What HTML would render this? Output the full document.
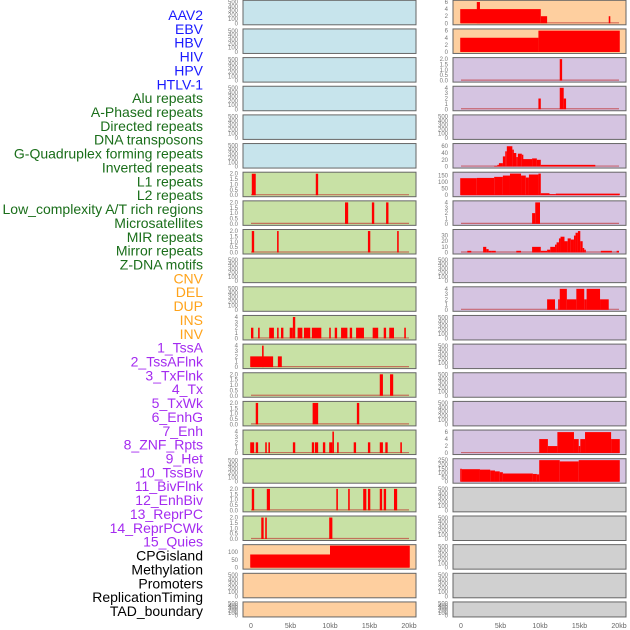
<!DOCTYPE html>
<html><head><meta charset="utf-8"><style>
html,body{margin:0;padding:0;background:#fff;}
svg{display:block;font-family:"Liberation Sans",sans-serif;}
</style></head><body>
<svg id="chart" width="630" height="630" viewBox="0 0 630 630">
<g id="labels"></g>
<g id="panels"></g>
<g id="xaxes"></g>
</svg>
<script>
// ---- data ----
const trackLabels = ["AAV2","EBV","HBV","HIV","HPV","HTLV-1","Alu repeats","A-Phased repeats","Directed repeats","DNA transposons","G-Quadruplex forming repeats","Inverted repeats","L1 repeats","L2 repeats","Low_complexity A/T rich regions","Microsatellites","MIR repeats","Mirror repeats","Z-DNA motifs","CNV","DEL","DUP","INS","INV","1_TssA","2_TssAFlnk","3_TxFlnk","4_Tx","5_TxWk","6_EnhG","7_Enh","8_ZNF_Rpts","9_Het","10_TssBiv","11_BivFlnk","12_EnhBiv","13_ReprPC","14_ReprPCWk","15_Quies","CPGisland","Methylation","Promoters","ReplicationTiming","TAD_boundary"];
const labelGroups = [6,13,5,15,5];
const groupColors = ["#1a1aff","#1a6e1a","#ffa31a","#a42bf0","#000000"];
const xTickValues = [0,5,10,15,20];
const xTickLabels = ["0","5kb","10kb","15kb","20kb"];
const ticksEmpty = [0,100,200,300,400,500];
const ticks2 = [0,0.5,1,1.5,2];
const ticks4 = [0,1,2,3,4];
const ticks6 = [0,2,4,6];
// segments: [startKb, endKb, value]
const leftRow6 = [[0.1,0.6,2],[8.2,8.5,2]];
const leftRow7 = [[11.9,12.3,2],[15.3,15.6,2],[17.1,17.4,2]];
const leftRow8 = [[0.1,0.4,2],[3.3,3.5,2],[14.8,15.1,2],[18.5,18.7,2]];
const leftRow11 = [[0,0.3,2],[0.9,1.1,2],[2.3,2.9,2],[3.3,3.5,2],[3.8,4.1,2],[4.9,5.3,2],[5.3,5.6,4],[5.9,6.5,2],[6.7,7.5,2],[7.7,8.9,2],[9.9,10.1,2],[10.6,10.9,2],[11.4,12.2,2],[12.5,12.8,2],[13.3,14.3,2],[15.4,16.1,2],[16.8,17.1,2],[17.5,18.1,2],[19.4,19.6,2]];
const leftRow12 = [[-0.1,2.8,2],[1.4,1.6,4],[3.4,3.9,2]];
const leftRow13 = [[16.3,16.7,2],[17.6,18.0,2]];
const leftRow14 = [[0.6,0.9,2],[7.8,8.5,2],[13.4,13.7,2]];
const leftRow15 = [[-0.1,0.4,2],[0.6,0.9,2],[1.8,2.0,2],[2.2,2.4,2],[5.3,5.6,2],[7.7,8.0,2],[8.1,8.5,2],[9.1,9.4,2],[9.9,10.3,2],[10.3,10.5,4],[10.9,11.1,2],[13.0,13.3,2],[14.8,15.1,2],[16.3,16.7,2],[17.0,17.3,2],[18.9,19.1,2]];
const leftRow17 = [[0.1,0.4,2],[2.0,2.4,2],[10.8,11.0,2],[12.3,12.5,2],[14.2,14.6,2],[14.8,15.1,2],[16.3,16.6,2],[16.8,17.1,2],[18.1,18.5,2]];
const leftRow18 = [[1.3,1.6,2],[1.8,2.0,2],[9.9,10.3,2]];
const leftRow19 = [[-0.1,10,85],[10,20.1,142]];
const rightRow0 = [[-0.1,10.1,4],[2.0,2.4,6],[10.1,10.9,2],[18.7,18.9,2]];
const rightRow1 = [[-0.1,9.8,4],[9.8,20.1,6]];
const rightRow2 = [[12.5,12.8,2]];
const rightRow3 = [[9.8,10.1,2],[12.5,13.0,4],[13.0,13.3,2]];
const rightRow5 = [[4.2,4.6,2],[4.6,4.8,5],[4.8,5.3,10],[5.3,5.6,30],[5.6,5.8,45],[5.8,6.5,60],[6.5,6.6,50],[6.6,7.0,40],[7.0,7.2,28],[7.2,7.7,38],[7.7,7.8,35],[7.8,9.0,22],[9.0,9.6,24],[9.6,10.1,20],[10.1,17.0,5]];
const rightRow6 = [[-0.1,2.0,130],[2.0,4.2,132],[4.2,5.3,140],[5.3,6.2,150],[6.2,7.6,165],[7.6,8.2,150],[8.2,8.6,135],[8.6,9.8,158],[9.8,10.1,165],[10.1,11.2,15],[11.2,12.0,8],[12.0,20.1,12]];
const rightRow7 = [[9.0,9.4,2],[9.4,10.0,4]];
const rightRow8 = [[0.8,1.3,3],[2.8,3.2,10],[3.2,3.5,6],[3.5,3.9,3],[3.9,4.4,3],[7.0,7.6,3],[9.0,10.1,10],[10.1,10.9,3],[10.9,11.3,5],[11.3,11.9,10],[11.9,12.1,14],[12.1,12.4,18],[12.4,12.6,25],[12.6,13.1,28],[13.1,13.5,20],[13.5,13.9,25],[13.9,14.3,23],[14.3,14.5,30],[14.5,14.8,35],[14.8,15.1,38],[15.1,15.4,20],[15.4,15.6,8],[15.6,15.8,5],[17.7,19.1,3],[19.7,20.0,3]];
const rightRow10 = [[10.9,11.9,2],[12.3,12.5,2],[12.5,13.4,4],[13.4,14.6,2],[14.6,15.6,4],[15.6,15.9,2],[15.9,17.6,4],[17.6,18.7,2]];
const rightRow15 = [[9.9,11.0,4],[11.0,12.2,2],[12.2,14.3,6],[14.3,14.9,4],[14.9,15.1,2],[15.1,15.7,4],[15.7,19.0,6],[19.0,20.1,4]];
const rightRow16 = [[-0.1,0.1,150],[0.1,2.4,145],[2.4,3.7,140],[3.7,4.3,130],[4.3,4.9,120],[4.9,5.3,110],[5.3,9.1,95],[9.1,9.6,90],[9.6,9.9,85],[9.9,12.5,250],[12.5,14.9,235],[14.9,20.1,250]];
const ticks150 = [0,50,100,150];
const ticks60 = [0,20,40,60];
const ticks30 = [0,10,20,30];
const ticks100 = [0,50,100];
const ticks250 = [0,50,100,150,200,250];

// ---- layout ----
const NS = "http://www.w3.org/2000/svg";
const BLUE="#c7e4ec", GREEN="#c8e1a5", ORANGE="#fecf9f", PURPLE="#d5c4e1", GRAY="#d0d0d0";
const sides = {left:{x:243,w:173,x0:251}, right:{x:453,w:173,x0:461}};
const kbScale = 7.9;
function rowTop(i){return 0.3 + i*28.65;}
function rowH(i){return i===21?15:24.5;}
function mk(tag, attrs, parent){const e=document.createElementNS(NS,tag);for(const k in attrs)e.setAttribute(k,attrs[k]);parent.appendChild(e);return e;}
function fmt(t,ticks){return ticks===ticks2? t.toFixed(1): String(t);}

const panelDefs = [];
for(let i=0;i<22;i++){
  panelDefs.push({side:'left',row:i,bg: i<6?BLUE:(i<19?GREEN:ORANGE),segs:null,ticks:ticksEmpty,ymax:520});
  panelDefs.push({side:'right',row:i,bg: i<2?ORANGE:(i<17?PURPLE:GRAY),segs:null,ticks:ticksEmpty,ymax:520});
}
function setP(side,row,segs,ticks,ymax){const p=panelDefs.find(d=>d.side===side&&d.row===row);p.segs=segs;p.ticks=ticks;p.ymax=ymax;}
setP('left',6,leftRow6,ticks2,2.05);
setP('left',7,leftRow7,ticks2,2.05);
setP('left',8,leftRow8,ticks2,2.05);
setP('left',11,leftRow11,ticks4,4.1);
setP('left',12,leftRow12,ticks4,4.1);
setP('left',13,leftRow13,ticks2,2.05);
setP('left',14,leftRow14,ticks2,2.05);
setP('left',15,leftRow15,ticks4,4.1);
setP('left',17,leftRow17,ticks2,2.05);
setP('left',18,leftRow18,ticks2,2.05);
setP('left',19,leftRow19,ticks100,142);
setP('right',0,rightRow0,ticks6,6.2);
setP('right',1,rightRow1,ticks6,6.2);
setP('right',2,rightRow2,ticks2,2.05);
setP('right',3,rightRow3,ticks4,4.1);
setP('right',5,rightRow5,ticks60,65);
setP('right',6,rightRow6,ticks150,168);
setP('right',7,rightRow7,ticks4,4.1);
setP('right',8,rightRow8,ticks30,39);
setP('right',10,rightRow10,ticks4,4.2);
setP('right',15,rightRow15,ticks6,6.3);
setP('right',16,rightRow16,ticks250,255);

const panelsG = document.getElementById('panels');
panelDefs.forEach(p=>{
  const s=sides[p.side], T=rowTop(p.row), H=rowH(p.row);
  const g=mk('g',{},panelsG);
  
  
  mk('rect',{x:s.x,y:T,width:s.w,height:H,fill:p.bg,stroke:'#666','stroke-width':1},g);
  const yb=T+H-1.5, yt=T+1;
  const yS=v=>yb-(v/p.ymax)*(yb-yt);
  const xS=kb=>s.x0+kb*kbScale;
  // y ticks
  p.ticks.forEach(t=>{
    const tx=mk('text',{x:s.x-5,y:yS(t)+2,'font-size':6,fill:'#777','text-anchor':'end'},g);
    tx.textContent=fmt(t,p.ticks);
    
    
  });
  if(p.segs){
    mk('line',{x1:xS(0),x2:xS(20),y1:yb-0.5,y2:yb-0.5,stroke:'rgba(190,40,40,0.6)','stroke-width':1.2},g);
    p.segs.forEach(sg=>{
      const r=mk('rect',{x:xS(sg[0]),y:yS(sg[2]),width:Math.max(1.5,xS(sg[1])-xS(sg[0])),height:yb-yS(sg[2]),fill:'#ff0000'},g);
      
      
    });
  }
});

// x axes
const xg=document.getElementById('xaxes');
['left','right'].forEach(sd=>{
  const s=sides[sd];
  xTickValues.forEach((v,i)=>{
    const t=mk('text',{x:s.x0+v*kbScale,y:628,'font-size':7,fill:'#666','text-anchor':'middle'},xg);
    t.textContent=xTickLabels[i];
    
    
  });
});

// labels
const lg=document.getElementById('labels');
let idx=0;
labelGroups.forEach((n,gi)=>{
  for(let k=0;k<n;k++){
    const t=mk('text',{x:203,y:15+13.86*idx+5,'font-size':14,fill:groupColors[gi],'text-anchor':'end'},lg);
    t.textContent=trackLabels[idx];
    
    
    idx++;
  }
});
</script>
</body></html>
